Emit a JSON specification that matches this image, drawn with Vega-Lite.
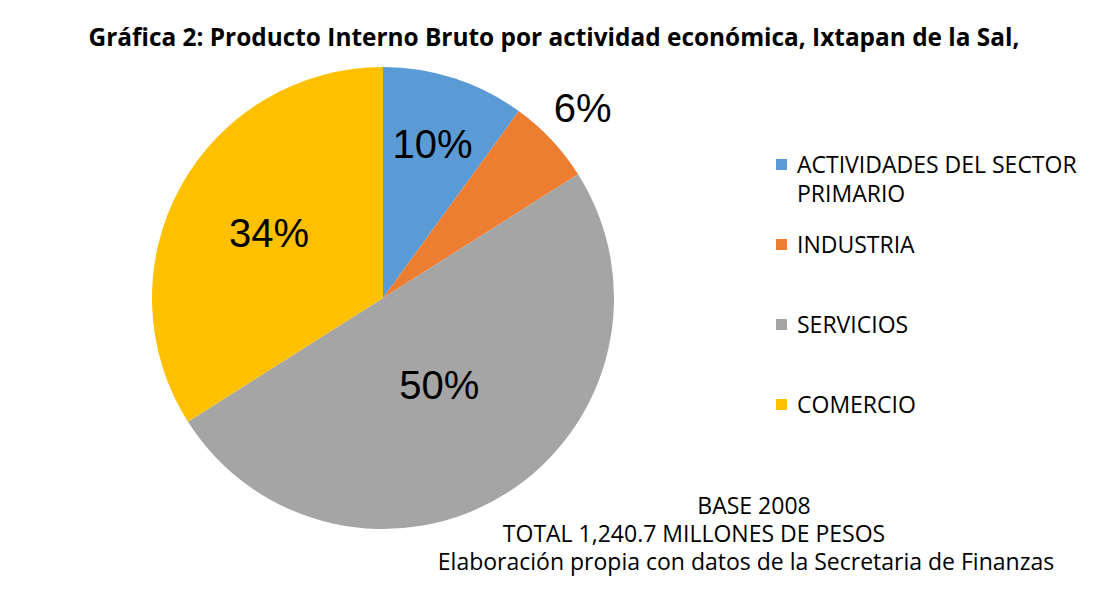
{
  "$schema": "https://vega.github.io/schema/vega-lite/v6.json",
  "width": 766,
  "height": 476,
  "autosize": {"type": "none"},
  "padding": {"left": 0, "top": 60, "right": 338, "bottom": 60},
  "background": "white",
  "config": {"view": {"stroke": null}},
  "title": {
    "text": "Gráfica 2: Producto Interno Bruto por actividad económica, Ixtapan de la Sal,",
    "font": "Open Sans",
    "fontSize": 24.4,
    "fontWeight": "bold",
    "color": "black",
    "anchor": "middle",
    "frame": "group",
    "dx": 171,
    "dy": 23,
    "offset": 13,
    "baseline": "alphabetic"
  },
  "data": {
    "values": [
      {"actividad": "ACTIVIDADES DEL SECTOR PRIMARIO", "pct": 10, "orden": 1, "etiqueta": "10%"},
      {"actividad": "INDUSTRIA", "pct": 6, "orden": 2, "etiqueta": "6%"},
      {"actividad": "SERVICIOS", "pct": 50, "orden": 3, "etiqueta": "50%"},
      {"actividad": "COMERCIO", "pct": 34, "orden": 4, "etiqueta": "34%"}
    ]
  },
  "layer": [
    {
      "mark": {"type": "arc", "radius": 231},
      "encoding": {
        "theta": {"field": "pct", "type": "quantitative", "stack": true, "scale": {"domain": [0, 100]}},
        "order": {"field": "orden", "type": "quantitative"},
        "color": {
          "field": "actividad",
          "type": "nominal",
          "sort": null,
          "scale": {
            "domain": ["ACTIVIDADES DEL SECTOR PRIMARIO", "INDUSTRIA", "SERVICIOS", "COMERCIO"],
            "range": ["#5B9BD5", "#ED7D31", "#A5A5A5", "#FFC000"]
          },
          "legend": {
            "orient": "none",
            "legendX": 770,
            "legendY": 93,
            "title": null,
            "symbolType": "square",
            "symbolSize": 121,
            "symbolStrokeWidth": 0,
            "labelFont": "Open Sans",
            "labelFontSize": 23,
            "labelColor": "black",
            "labelOffset": 4,
            "labelLimit": 400,
            "labelBaseline": "top",
            "gridAlign": "all",
            "rowPadding": 26,
            "labelExpr": "datum.label == 'ACTIVIDADES DEL SECTOR PRIMARIO' ? ['ACTIVIDADES DEL SECTOR', 'PRIMARIO'] : datum.label",
            "encode": {"labels": {"update": {"lineHeight": {"value": 29}, "dy": {"value": -10}}}}
          }
        }
      }
    },
    {
      "transform": [
        {"stack": "pct", "groupby": [], "sort": [{"field": "orden"}], "as": ["t0", "t1"]},
        {"calculate": "(datum.t0 + datum.t1) / 2", "as": "tmid"},
        {"filter": "datum.orden == 1"}
      ],
      "mark": {"type": "text", "radius": 160, "font": "Liberation Sans", "fontSize": 40, "color": "black"},
      "encoding": {
        "theta": {"field": "tmid", "type": "quantitative", "scale": {"domain": [0, 100]}},
        "text": {"field": "etiqueta"}
      }
    },
    {
      "transform": [
        {"stack": "pct", "groupby": [], "sort": [{"field": "orden"}], "as": ["t0", "t1"]},
        {"calculate": "(datum.t0 + datum.t1) / 2", "as": "tmid"},
        {"filter": "datum.orden == 2"}
      ],
      "mark": {"type": "text", "radius": 274, "font": "Liberation Sans", "fontSize": 40, "color": "black"},
      "encoding": {
        "theta": {"field": "tmid", "type": "quantitative", "scale": {"domain": [0, 100]}},
        "text": {"field": "etiqueta"}
      }
    },
    {
      "transform": [
        {"stack": "pct", "groupby": [], "sort": [{"field": "orden"}], "as": ["t0", "t1"]},
        {"calculate": "(datum.t0 + datum.t1) / 2", "as": "tmid"},
        {"filter": "datum.orden == 3"}
      ],
      "mark": {"type": "text", "radius": 105, "font": "Liberation Sans", "fontSize": 40, "color": "black"},
      "encoding": {
        "theta": {"field": "tmid", "type": "quantitative", "scale": {"domain": [0, 100]}},
        "text": {"field": "etiqueta"}
      }
    },
    {
      "transform": [
        {"stack": "pct", "groupby": [], "sort": [{"field": "orden"}], "as": ["t0", "t1"]},
        {"calculate": "(datum.t0 + datum.t1) / 2", "as": "tmid"},
        {"filter": "datum.orden == 4"}
      ],
      "mark": {"type": "text", "radius": 130, "font": "Liberation Sans", "fontSize": 40, "color": "black"},
      "encoding": {
        "theta": {"field": "tmid", "type": "quantitative", "scale": {"domain": [0, 100]}},
        "text": {"field": "etiqueta"}
      }
    },
    {
      "data": {"values": [{"nota": "BASE 2008"}]},
      "mark": {"type": "text", "x": 754, "y": 454, "font": "Open Sans", "fontSize": 23, "color": "black", "baseline": "alphabetic"},
      "encoding": {"text": {"field": "nota"}}
    },
    {
      "data": {"values": [{"nota": "TOTAL 1,240.7 MILLONES DE PESOS"}]},
      "mark": {"type": "text", "x": 694, "y": 482, "font": "Open Sans", "fontSize": 23, "color": "black", "baseline": "alphabetic"},
      "encoding": {"text": {"field": "nota"}}
    },
    {
      "data": {"values": [{"nota": "Elaboración propia con datos de la Secretaria de Finanzas"}]},
      "mark": {"type": "text", "x": 746, "y": 510, "font": "Open Sans", "fontSize": 23, "color": "black", "baseline": "alphabetic"},
      "encoding": {"text": {"field": "nota"}}
    }
  ]
}
